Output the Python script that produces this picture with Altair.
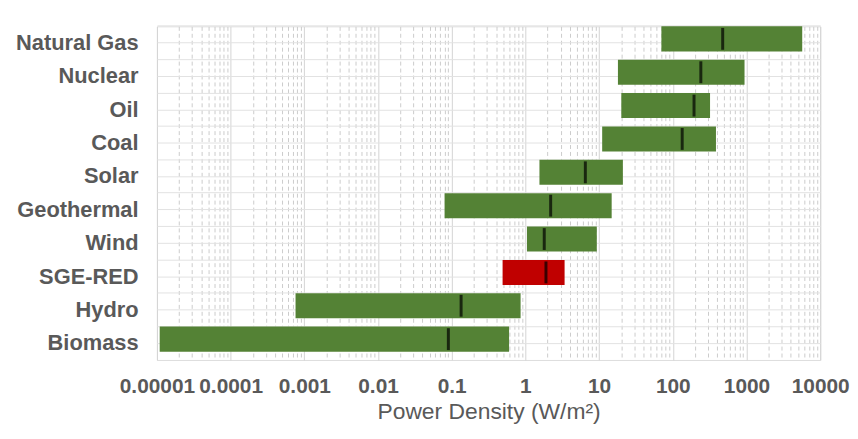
import altair as alt
import pandas as pd

sources = ["Natural Gas", "Nuclear", "Oil", "Coal", "Solar",
           "Geothermal", "Wind", "SGE-RED", "Hydro", "Biomass"]
low = [70, 18, 20, 11, 1.55, 0.08, 1.05, 0.49, 0.00076, 0.0000109]
high = [5700, 940, 320, 385, 21, 14.8, 9.3, 3.4, 0.86, 0.60]
median = [475, 240, 194, 134, 6.5, 2.2, 1.8, 1.9, 0.134, 0.090]
kind = ["Conventional"] * 7 + ["SGE-RED"] + ["Conventional"] * 2

decade_ticks = [1e-5, 1e-4, 1e-3, 0.01, 0.1, 1, 10, 100, 1000, 10000]
minor_ticks = [float(f"{m}e{e}") for e in range(-5, 4) for m in range(2, 10)]

df = pd.DataFrame({"source": sources, "low": low, "high": high,
                   "median": median, "kind": kind})

GRAY = "#595959"
FONT = "Liberation Sans"
xscale = alt.Scale(type="log", domain=[1e-5, 1e4], nice=False)
yscale = alt.Scale(paddingInner=0.25, paddingOuter=0.125)

bars = alt.Chart(df).mark_bar(yOffset=-4.2).encode(
    y=alt.Y("source:N", sort=sources, scale=yscale,
            axis=alt.Axis(orient="right", labels=False, ticks=False, domain=False,
                          grid=True, bandPosition=0.5, gridColor="#e2e2e2",
                          minExtent=0, maxExtent=0, title=None)),
    x=alt.X("low:Q", scale=xscale,
            axis=alt.Axis(orient="top", values=minor_ticks, labels=False, ticks=False,
                          domain=False, grid=True, gridDash=[4, 3], gridColor="#cccccc",
                          minExtent=0, maxExtent=0, title=None)),
    x2="high:Q",
    color=alt.Color("kind:N",
                    scale=alt.Scale(domain=["Conventional", "SGE-RED"],
                                    range=["#548235", "#C00000"]),
                    legend=None),
)

meds = alt.Chart(df).mark_tick(color="black", thickness=3, size=22, yOffset=-4.2).encode(
    y=alt.Y("source:N", sort=sources, scale=yscale,
            axis=alt.Axis(orient="left", grid=True, bandPosition=-0.1667,
                          gridColor="#e2e2e2", ticks=False, domain=False, title=None,
                          labelFont=FONT, labelFontSize=22, labelFontWeight="bold",
                          labelColor=GRAY, labelPadding=19,
                          minExtent=140, maxExtent=140)),
    x=alt.X("median:Q", scale=xscale,
            axis=alt.Axis(values=decade_ticks, format="~f", ticks=False, domain=False,
                          grid=True, gridColor="#d4d4d4",
                          labelFont=FONT, labelFontSize=21, labelFontWeight="bold",
                          labelColor=GRAY, labelPadding=16, labelOverlap=False,
                          labelFlush=False, labelBound=False,
                          title="Power Density (W/m²)", titleFont=FONT,
                          titleFontSize=23, titleFontWeight="normal",
                          titleColor=GRAY, titlePadding=4)),
)

chart = alt.layer(bars, meds).resolve_axis(x="independent", y="independent").properties(
    width=668, height=336,
    autosize=alt.AutoSizeParams(type="none"),
    padding={"left": 150, "top": 17, "right": 30, "bottom": 66},
    background="white",
).configure_view(stroke="#d9d9d9").configure(font=FONT)

chart.save("out.html", embed_options={"renderer": "svg", "actions": False})
